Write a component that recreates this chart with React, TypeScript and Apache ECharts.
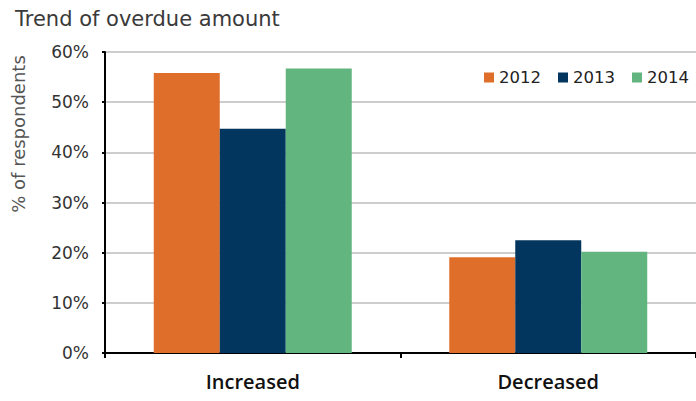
import React, { useEffect, useRef } from "react";
import * as echarts from "echarts";

const categories = ["Increased", "Decreased"];
const seriesNames = ["2012", "2013", "2014"];
const values2012 = [55.8, 19.1];
const values2013 = [44.7, 22.5];
const values2014 = [56.7, 20.2];
const colors = ["#E06E2B", "#03365E", "#62B57F"];
const yTicks = [0, 10, 20, 30, 40, 50, 60];

const FONT = "'DejaVu Sans', sans-serif";

export default function App() {
  const ref = useRef<HTMLDivElement>(null);
  useEffect(() => {
    if (!ref.current) return;
    const chart = echarts.init(ref.current, undefined, { renderer: "svg" });
    const data = [values2012, values2013, values2014];
    chart.setOption({
      animation: false,
      backgroundColor: "#ffffff",
      textStyle: { fontFamily: FONT },
      title: {
        text: "Trend of overdue amount",
        left: 10,
        top: 3,
        textStyle: { fontSize: 21, fontWeight: "normal", color: "#3a3a3a", fontFamily: FONT },
      },
      graphic: [
        {
          type: "text",
          x: 18,
          y: 134,
          rotation: Math.PI / 2,
          style: {
            text: "% of respondents",
            fontSize: 18,
            fill: "#555",
            fontFamily: FONT,
            align: "center",
            verticalAlign: "middle",
          },
        },
      ],
      legend: {
        data: seriesNames,
        right: 2,
        top: 64,
        icon: "rect",
        itemWidth: 10,
        itemHeight: 10,
        itemGap: 17,
        textStyle: { fontSize: 16.5, color: "#222", fontFamily: FONT },
      },
      grid: { left: 105, right: 0, top: 52, bottom: 48, containLabel: false },
      xAxis: {
        type: "category",
        data: categories,
        axisLine: { show: true, lineStyle: { color: "#000", width: 2 } },
        axisTick: { show: true, length: 5, lineStyle: { color: "#000", width: 2 } },
        axisLabel: {
          fontSize: 20,
          color: "#111",
          margin: 18,
          fontWeight: 600,
          fontFamily: "'Open Sans', sans-serif",
        },
      },
      yAxis: {
        type: "value",
        min: 0,
        max: 60,
        interval: 10,
        axisLine: { show: true, lineStyle: { color: "#000", width: 2 } },
        axisTick: { show: true, length: 3, lineStyle: { color: "#000", width: 2 } },
        axisLabel: {
          fontSize: 17,
          color: "#333",
          margin: 16,
          fontFamily: FONT,
          formatter: (v: number) => (yTicks.includes(v) ? v + "%" : ""),
        },
        splitLine: { show: true, lineStyle: { color: "#bdbdbd", width: 1.5 } },
      },
      series: seriesNames.map((name, i) => ({
        name,
        type: "bar",
        data: data[i],
        barGap: "0%",
        barCategoryGap: "33%",
        itemStyle: { color: colors[i] },
      })),
    });
    return () => chart.dispose();
  }, []);
  return <div ref={ref} style={{ width: 696, height: 401, position: "absolute", left: 0, top: 0 }} />;
}
